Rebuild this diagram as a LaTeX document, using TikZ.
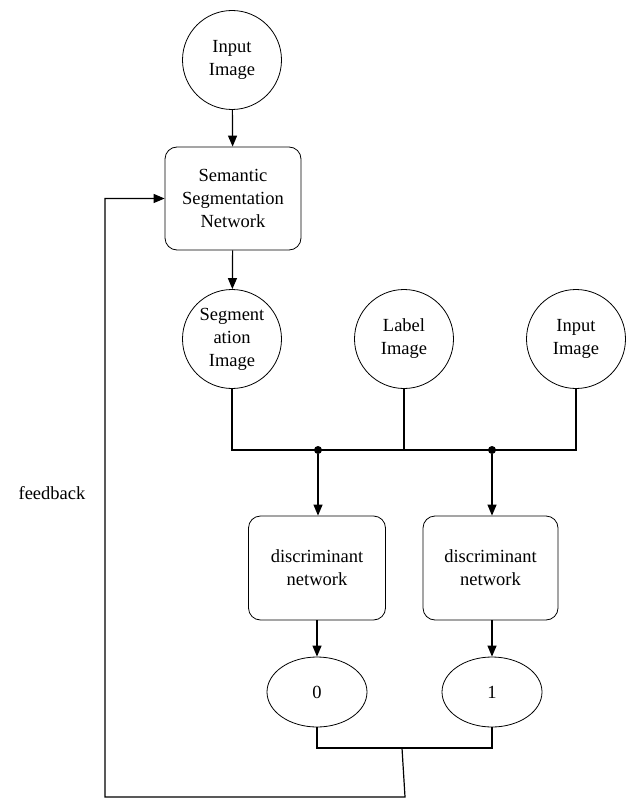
\documentclass[tikz,border=0pt]{standalone}
\usepackage{fontspec}
\setmainfont{Liberation Serif}
\usepackage{tikz}
\usetikzlibrary{shapes.geometric, arrows.meta, positioning}

\begin{document}
\begin{tikzpicture}[x=1pt, y=-1pt,
    every node/.style={font=\fontsize{18.5}{23}\selectfont, align=center},
    imgcircle/.style={circle, draw, line width=0.8pt, minimum size=99pt, inner sep=0pt},
    netbox/.style={rectangle, rounded corners=12pt, draw, line width=0.8pt, inner sep=0pt},
    outval/.style={ellipse, draw, line width=0.8pt, minimum width=100pt, minimum height=70pt, inner sep=0pt},
    wire/.style={line width=1.2pt},
    flow/.style={line width=1.2pt, -{Triangle[length=11pt, width=9pt]}},
    joint/.style={circle, fill, inner sep=0pt, minimum size=8pt}]
  \useasboundingbox (0,0) rectangle (631,799);

  %% Generator part
  \node[imgcircle] (inimg) at (232,60) {Input\\Image};
  \node[netbox, minimum width=136pt, minimum height=103pt] (segnet) at (233,198.5)
    {Semantic\\Segmentation\\Network};
  \node[imgcircle] (segimg) at (232,339) {Segment\\ation\\Image};
  \node[imgcircle] (lblimg) at (404,339) {Label\\Image};
  \node[imgcircle] (inimg2) at (576,339) {Input\\Image};

  \draw[flow] (inimg) -- (segnet);
  \draw[flow] (segnet) -- (segimg);

  %% Bus to the discriminators
  \node[joint] (jl) at (318,450) {};
  \node[joint] (jr) at (492,450) {};
  \draw[wire] (segimg.south) -- (segimg.south |- jl) -- (inimg2.south |- jl) -- (inimg2.south);
  \draw[wire] (lblimg.south) -- (lblimg.south |- jl);

  %% Discriminators
  \node[netbox, minimum width=137pt, minimum height=104pt] (discl) at (317,568)
    {discriminant\\network};
  \node[netbox, minimum width=135pt, minimum height=104pt] (discr) at (490.5,568)
    {discriminant\\network};
  \node[outval] (zero) at (317,692) {0};
  \node[outval] (one) at (492,692) {1};

  \draw[flow] (jl) -- (jl |- discl.north);
  \draw[flow] (jr) -- (jr |- discr.north);
  \draw[flow] (discl.south -| zero) -- (zero);
  \draw[flow] (discr.south -| one) -- (one);

  %% Feedback loop
  \coordinate (mid) at (402,748);
  \coordinate (low) at (405,797);
  \coordinate (corner) at (105,797);
  \draw[wire] (zero.south) -- (zero.south |- mid) -- (one.south |- mid) -- (one.south);
  \draw[flow] (mid) -- (low) -- (corner) |- (segnet.west);
  \node (fb) at (52,493) {feedback};
\end{tikzpicture}
\end{document}
